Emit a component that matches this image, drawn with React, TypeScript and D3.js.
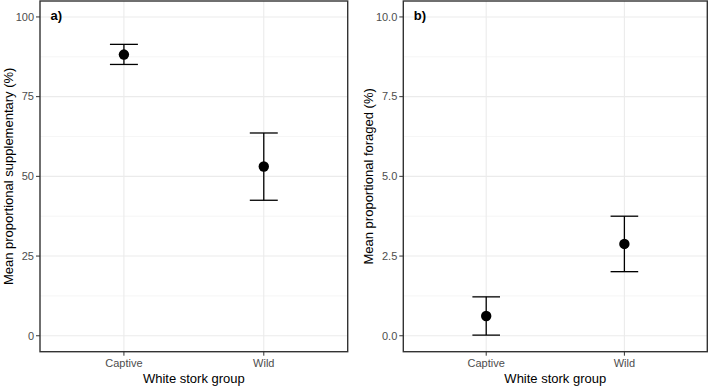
import React from "react";
import { scaleLinear, scalePoint, format } from "d3";

const groups = ["Captive", "Wild"];

const suppMean = [88.2, 53.1];
const suppLow = [85.1, 42.5];
const suppHigh = [91.4, 63.6];
const suppTicks = [0, 25, 50, 75, 100];
const suppMinor = [12.5, 37.5, 62.5, 87.5];

const forMean = [0.62, 2.88];
const forLow = [0.02, 2.01];
const forHigh = [1.22, 3.75];
const forTicks = [0, 2.5, 5, 7.5, 10];
const forMinor = [1.25, 3.75, 6.25, 8.75];

const W = 709;
const H = 386;
const top = 1;
const bottom = 351.7;
const font = "Liberation Sans, Arial, sans-serif";

type PanelProps = {
  x0: number;
  x1: number;
  domain: [number, number];
  ticks: number[];
  minor: number[];
  fmt: (v: number) => string;
  mean: number[];
  low: number[];
  high: number[];
  tag: string;
  yTitle: string;
  yTitleX: number;
};

const Panel = ({ x0, x1, domain, ticks, minor, fmt, mean, low, high, tag, yTitle, yTitleX }: PanelProps) => {
  const x = scalePoint<string>().domain(groups).range([x0, x1]).padding(0.6);
  const y = scaleLinear().domain(domain).range([bottom, top]);
  const capHalf = (x.step() * 0.2) / 2;
  const midY = (top + bottom) / 2;

  return (
    <g>
      {/* grid */}
      {minor.map((v) => (
        <line key={"mn" + v} x1={x0} x2={x1} y1={y(v)} y2={y(v)} stroke="#f0f0f0" strokeWidth={0.6} />
      ))}
      {ticks.map((v) => (
        <line key={"mj" + v} x1={x0} x2={x1} y1={y(v)} y2={y(v)} stroke="#ebebeb" strokeWidth={1.1} />
      ))}
      {groups.map((g) => (
        <line key={"vg" + g} x1={x(g)} x2={x(g)} y1={top} y2={bottom} stroke="#ebebeb" strokeWidth={1.1} />
      ))}

      {/* error bars and points */}
      {groups.map((g, i) => {
        const cx = x(g) as number;
        return (
          <g key={"pt" + g}>
            <line x1={cx} x2={cx} y1={y(low[i])} y2={y(high[i])} stroke="#000" strokeWidth={1.3} />
            <line x1={cx - capHalf} x2={cx + capHalf} y1={y(low[i])} y2={y(low[i])} stroke="#000" strokeWidth={1.3} />
            <line x1={cx - capHalf} x2={cx + capHalf} y1={y(high[i])} y2={y(high[i])} stroke="#000" strokeWidth={1.3} />
            <circle cx={cx} cy={y(mean[i])} r={5.2} fill="#000" />
          </g>
        );
      })}

      {/* panel border */}
      <rect x={x0} y={top} width={x1 - x0} height={bottom - top} fill="none" stroke="#333" strokeWidth={1.4} />

      {/* y axis */}
      {ticks.map((v) => (
        <g key={"yt" + v}>
          <line x1={x0 - 4} x2={x0} y1={y(v)} y2={y(v)} stroke="#333" strokeWidth={1} />
          <text x={x0 - 6} y={y(v)} dy="0.35em" textAnchor="end" fontSize={11} fill="#4d4d4d" fontFamily={font}>
            {fmt(v)}
          </text>
        </g>
      ))}

      {/* x axis */}
      {groups.map((g) => (
        <g key={"xt" + g}>
          <line x1={x(g)} x2={x(g)} y1={bottom} y2={bottom + 4} stroke="#333" strokeWidth={1} />
          <text x={x(g)} y={bottom + 15.5} textAnchor="middle" fontSize={11} fill="#4d4d4d" fontFamily={font}>
            {g}
          </text>
        </g>
      ))}

      <text x={(x0 + x1) / 2} y={382.5} textAnchor="middle" fontSize={13} fill="#000" fontFamily={font}>
        White stork group
      </text>
      <text
        transform={`translate(${yTitleX},${midY}) rotate(-90)`}
        textAnchor="middle"
        dy="0.35em"
        fontSize={13}
        fill="#000"
        fontFamily={font}
      >
        {yTitle}
      </text>
      <text x={x0 + 10.5} y={19.5} fontSize={13} fontWeight="bold" fill="#000" fontFamily={font}>
        {tag}
      </text>
    </g>
  );
};

const App = () => {
  return (
    <svg width={W} height={H} style={{ position: "absolute", left: 0, top: 0, background: "#fff" }}>
      <Panel
        x0={40}
        x1={347.7}
        domain={[-5, 105]}
        ticks={suppTicks}
        minor={suppMinor}
        fmt={format("d")}
        mean={suppMean}
        low={suppLow}
        high={suppHigh}
        tag="a)"
        yTitle="Mean proportional supplementary (%)"
        yTitleX={8.5}
      />
      <Panel
        x0={403.3}
        x1={707.3}
        domain={[-0.5, 10.5]}
        ticks={forTicks}
        minor={forMinor}
        fmt={format(".1f")}
        mean={forMean}
        low={forLow}
        high={forHigh}
        tag="b)"
        yTitle="Mean proportional foraged (%)"
        yTitleX={368.5}
      />
    </svg>
  );
};

export default App;
